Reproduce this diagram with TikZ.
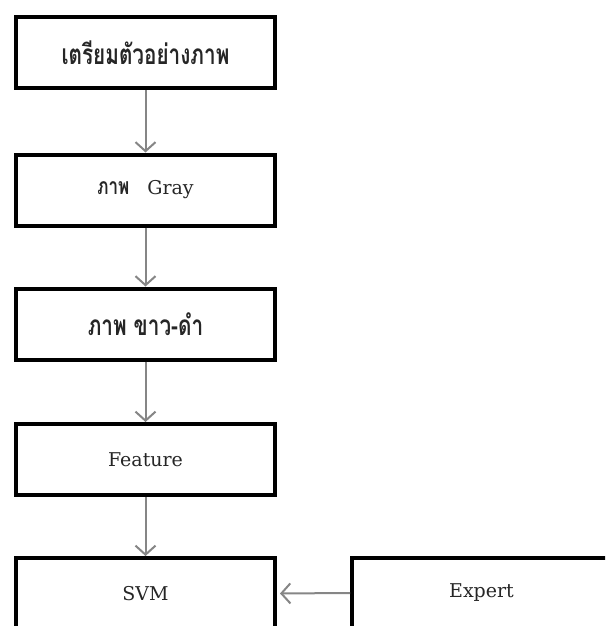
\documentclass[tikz,border=0pt]{standalone}
\usepackage{fontspec}
\setmainfont{DejaVu Serif}
\newfontfamily\thaifont[Script=Thai, FakeStretch=0.74]{Loma}
\usetikzlibrary{arrows.meta}
\newcommand\thaitext[1]{{\thaifont\bfseries\fontsize{28}{30}\selectfont #1}}
\tikzset{
  stage/.style={draw, line width=4pt, minimum width=259pt, minimum height=71pt,
    inner sep=0pt, text=black!85, font=\fontsize{19}{23}\selectfont},
  flow/.style={draw=gray!95, line width=2pt, -{Straight Barb[length=9pt,width=20pt]}}
}
\begin{document}
\begin{tikzpicture}[x=1pt,y=-1pt]
\useasboundingbox (0,0) rectangle (605,626);
\clip (0,0) rectangle (605,626);
% processing stages
\node[stage] (prep)    at (145.5,52.5) {\thaitext{เตรียมตัวอย่างภาพ}};
\node[stage] (gray)    at (145.5,190)  {{\thaifont\bfseries\fontsize{23}{26}\selectfont ภาพ}\hskip 18pt Gray};
\node[stage] (binary)  at (145.5,324)  {\thaitext{ภาพ ขาว-ดำ}};
\node[stage] (feature) at (145.5,459.5) {Feature};
\node[stage] (svm)     at (145.5,593.5) {SVM};
% expert input
\node[stage] (expert)  at (481.5,593)  {Expert};
% flow down the stages
\foreach \a/\b in {prep/gray,gray/binary,binary/feature,feature/svm}
  {\draw[flow] (\a.south) -- (\b.north);}
% expert to svm
\draw[flow, shorten >=3pt] (expert.west) -- (svm.east);
\end{tikzpicture}
\end{document}
